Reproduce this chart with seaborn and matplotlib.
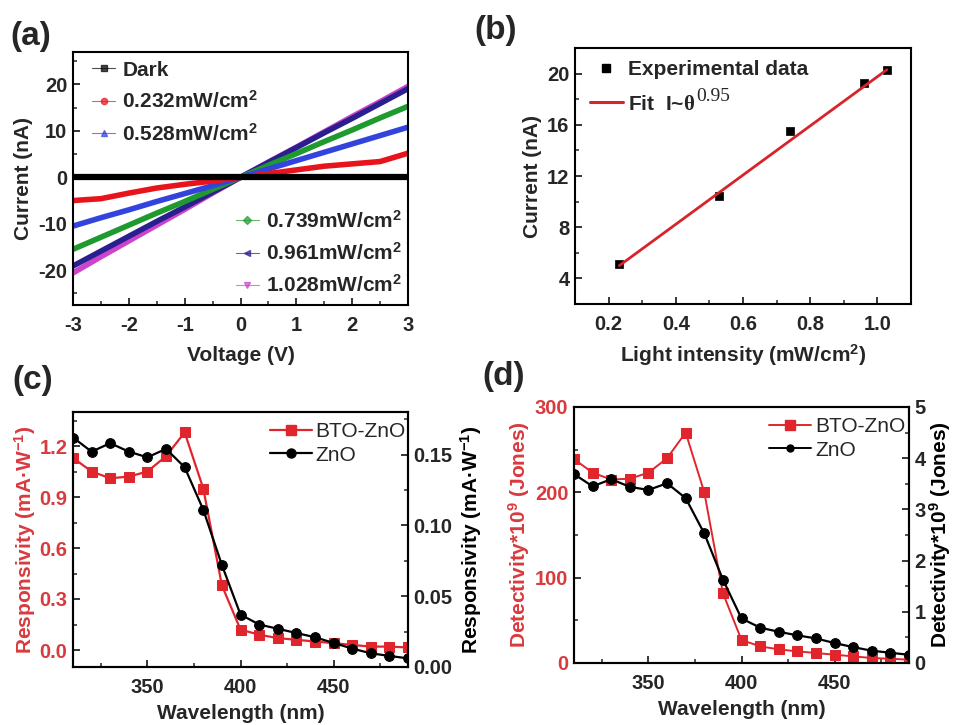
import numpy as np
import pandas as pd
import matplotlib
matplotlib.use("Agg")
import matplotlib.pyplot as plt
import seaborn as sns
from matplotlib.lines import Line2D
from matplotlib.ticker import MultipleLocator, FormatStrFormatter
from matplotlib.transforms import IdentityTransform

sns.set_style("ticks")
plt.rcParams["font.family"] = ["Liberation Sans", "DejaVu Sans"]
plt.rcParams["font.weight"] = "bold"
plt.rcParams["axes.unicode_minus"] = False
plt.rcParams["mathtext.fontset"] = "custom"
plt.rcParams["mathtext.rm"] = "Liberation Serif"
plt.rcParams["mathtext.bf"] = "Liberation Sans:bold"
plt.rcParams["mathtext.it"] = "Liberation Sans:italic"
plt.rcParams["mathtext.sf"] = "Liberation Sans"

# ---------------- data ----------------
# (a) I-V curves
voltage = [-3, -2.5, -2, -1.5, -1, -0.5, 0, 0.5, 1, 1.5, 2, 2.5, 3]
i_dark = [0, 0, 0, 0, 0, 0, 0, 0, 0, 0, 0, 0, 0]
i_0232 = [-5.0, -4.6, -3.4, -2.3, -1.5, -0.8, 0, 0.8, 1.6, 2.4, 2.9, 3.4, 5.2]
i_0528 = [-10.5, -8.7, -7.0, -5.2, -3.5, -1.8, 0, 1.8, 3.6, 5.4, 7.2, 9.0, 10.8]
i_0739 = [-15.5, -12.9, -10.3, -7.7, -5.2, -2.6, 0, 2.6, 5.1, 7.7, 10.2, 12.8, 15.3]
i_0961 = [-19.1, -15.9, -12.7, -9.5, -6.4, -3.2, 0, 3.2, 6.4, 9.6, 12.7, 15.9, 19.1]
i_1028 = [-20.6, -17.1, -13.7, -10.3, -6.9, -3.4, 0, 3.3, 6.5, 9.8, 13.1, 16.3, 19.6]
iv_labels = ["Dark", "0.232mW/cm$^{\\mathbf{2}}$", "0.528mW/cm$^{\\mathbf{2}}$",
             "0.739mW/cm$^{\\mathbf{2}}$", "0.961mW/cm$^{\\mathbf{2}}$",
             "1.028mW/cm$^{\\mathbf{2}}$"]

# (b) current vs light intensity
intensity = [0.232, 0.528, 0.739, 0.961, 1.028]
current = [5.1, 10.4, 15.5, 19.3, 20.3]
fit_x = [0.232, 1.028]
fit_y = [5.0, 20.3]
fit_exponent = "0.95"

# (c),(d) spectra
wavelength = [310, 320, 330, 340, 350, 360, 370, 380, 390, 400,
              410, 420, 430, 440, 450, 460, 470, 480, 490]
resp_bto = [1.13, 1.05, 1.01, 1.02, 1.05, 1.14, 1.28, 0.95, 0.38, 0.12,
            0.09, 0.07, 0.06, 0.05, 0.04, 0.03, 0.02, 0.02, 0.015]
resp_zno = [0.162, 0.152, 0.158, 0.152, 0.148, 0.154, 0.141, 0.111, 0.072, 0.037,
            0.030, 0.027, 0.024, 0.021, 0.017, 0.013, 0.0097, 0.0078, 0.0061]
det_bto = [239, 223, 215, 216, 223, 240, 270, 200, 82, 27,
           19.5, 16, 13.6, 11.7, 9.7, 7.8, 5.8, 5, 3.9]
det_zno = [3.69, 3.45, 3.59, 3.44, 3.38, 3.51, 3.22, 2.53, 1.63, 0.87,
           0.69, 0.61, 0.54, 0.48, 0.39, 0.31, 0.24, 0.20, 0.16]

RED = "#e0262c"
LRED = "#d93a3e"
TICK_FS = 14.5
LAB_FS = 15

fig = plt.figure(figsize=(9.55, 7.25), dpi=100)
W, H = 955, 725


def add_ax(l, t, r, b):
    return fig.add_axes([l / W, 1 - b / H, (r - l) / W, (b - t) / H])


def style(ax):
    for s in ax.spines.values():
        s.set_linewidth(1.5)
        s.set_color("black")
    ax.tick_params(direction="in", which="major", length=5, width=1.3,
                   labelsize=TICK_FS, top=False, right=False)
    ax.tick_params(direction="in", which="minor", length=3, width=1.1,
                   top=False, right=False)
    ax.tick_params(axis="x", which="major", pad=8)
    ax.tick_params(axis="y", which="major", pad=4)
    for t in ax.get_xticklabels() + ax.get_yticklabels():
        t.set_fontweight("bold")


# ---------------- (a) ----------------
axa = add_ax(73, 52, 408, 305)
colors_a = ["black", "#e8141c", "#3344dd", "#1f9a2e", "#2a1f8f", "#cc44cc"]
markers_a = ["s", "o", "^", "D", "<", "v"]
series_a = [i_dark, i_0232, i_0528, i_0739, i_0961, i_1028]
for k in [5, 4, 3, 2, 1, 0]:
    df = pd.DataFrame({"V": voltage, "I": series_a[k]})
    sns.lineplot(data=df, x="V", y="I", ax=axa, color=colors_a[k],
                 lw=4.5 if k == 0 else 4, sort=False, zorder=2 + (k == 0))
axa.set_xlim(-3, 3)
axa.set_ylim(-27.5, 27)
axa.xaxis.set_major_locator(MultipleLocator(1))
axa.xaxis.set_minor_locator(MultipleLocator(0.5))
axa.yaxis.set_major_locator(MultipleLocator(10))
axa.yaxis.set_minor_locator(MultipleLocator(5))
axa.set_xlabel("Voltage (V)", fontsize=LAB_FS, fontweight="bold", labelpad=8)
axa.set_ylabel("Current (nA)", fontsize=LAB_FS, fontweight="bold", labelpad=4)
style(axa)
handles = [Line2D([], [], color=colors_a[k], lw=0.8, alpha=0.7, marker=markers_a[k],
                  markersize=4.5, markerfacecolor=colors_a[k],
                  markeredgecolor=colors_a[k]) for k in range(6)]
leg_kw = dict(frameon=False, prop={"size": 15, "weight": "bold"}, handlelength=1.1,
              handletextpad=0.35, labelspacing=0.5, borderaxespad=0.2)
leg1 = axa.legend(handles[:3], iv_labels[:3], loc="upper left",
                  bbox_to_anchor=(0.02, 1.015), **leg_kw)
axa.add_artist(leg1)
axa.legend(handles[3:], iv_labels[3:], loc="lower right",
           bbox_to_anchor=(1.02, -0.015), **leg_kw)

# ---------------- (b) ----------------
axb = add_ax(575, 48, 911, 304)
dfb = pd.DataFrame({"x": intensity, "y": current})
sns.scatterplot(data=dfb, x="x", y="y", ax=axb, marker="s", s=40, color="black",
                edgecolor="black", zorder=2)
dff = pd.DataFrame({"x": fit_x, "y": fit_y})
sns.lineplot(data=dff, x="x", y="y", ax=axb, color="#d8232a", lw=2.0, zorder=3)
axb.set_xlim(0.1, 1.1)
axb.set_ylim(2, 22)
axb.xaxis.set_major_locator(MultipleLocator(0.2))
axb.xaxis.set_minor_locator(MultipleLocator(0.1))
axb.yaxis.set_major_locator(MultipleLocator(4))
axb.yaxis.set_minor_locator(MultipleLocator(2))
axb.set_xlabel("Light intensity (mW/cm$^{\\mathbf{2}}$)", fontsize=LAB_FS,
               fontweight="bold", labelpad=6)
axb.set_ylabel("Current (nA)", fontsize=LAB_FS, fontweight="bold", labelpad=4)
style(axb)
hb = [Line2D([], [], color="black", lw=0, marker="s", markersize=6),
      Line2D([], [], color="#d8232a", lw=2.2)]
legb = axb.legend(hb, ["Experimental data", "Fit  I~$\\mathrm{\\theta}$"],
                  loc="upper left", frameon=False, prop={"size": 15, "weight": "bold"},
                  handlelength=1.6, handletextpad=0.25, labelspacing=0.75,
                  borderaxespad=0.3, bbox_to_anchor=(0.0, 1.01))

# ---------------- (c) ----------------
axc = add_ax(73, 412, 408, 667)
axc2 = axc.twinx()
dfc = pd.DataFrame({"w": wavelength, "bto": resp_bto, "zno": resp_zno})
sns.lineplot(data=dfc, x="w", y="bto", ax=axc, color=RED, lw=1.6, marker="s",
             markersize=6.5, markeredgecolor=RED, legend=False)
sns.lineplot(data=dfc, x="w", y="zno", ax=axc2, color="black", lw=1.6, marker="o",
             markersize=7, markeredgecolor="black", legend=False)
axc.set_xlim(310, 490)
axc.set_ylim(-0.1, 1.4)
axc2.set_ylim(0, 0.18)
axc.xaxis.set_major_locator(MultipleLocator(50))
axc.xaxis.set_minor_locator(MultipleLocator(25))
axc.yaxis.set_major_locator(MultipleLocator(0.3))
axc.yaxis.set_minor_locator(MultipleLocator(0.15))
axc2.yaxis.set_major_locator(MultipleLocator(0.05))
axc2.yaxis.set_minor_locator(MultipleLocator(0.025))
axc.yaxis.set_major_formatter(FormatStrFormatter("%.1f"))
axc2.yaxis.set_major_formatter(FormatStrFormatter("%.2f"))
axc.set_xlabel("Wavelength (nm)", fontsize=LAB_FS, fontweight="bold", labelpad=5)
axc.set_ylabel("Responsivity (mA·W$^{\\mathbf{-1}}$)", fontsize=LAB_FS,
               fontweight="bold", color=LRED, labelpad=1)
axc2.set_ylabel("Responsivity (mA·W$^{\\mathbf{-1}}$)", fontsize=LAB_FS,
                fontweight="bold", color="black", labelpad=4)
style(axc)
style(axc2)
axc2.tick_params(which="both", right=True, left=False, labelright=True,
                 labelleft=False)
for t in axc.get_yticklabels():
    t.set_color(LRED)
hc = [Line2D([], [], color=RED, lw=1.6, marker="s", markersize=6.5),
      Line2D([], [], color="black", lw=1.6, marker="o", markersize=6.5)]
axc2.legend(hc, ["BTO-ZnO", "ZnO"], loc="upper right", frameon=False,
            prop={"size": 15, "weight": "normal"}, handlelength=2.0,
            handletextpad=0.2, labelspacing=0.2, borderaxespad=0.1,
            bbox_to_anchor=(1.025, 1.0))

# ---------------- (d) ----------------
axd = add_ax(574, 407, 909, 663)
axd2 = axd.twinx()
dfd = pd.DataFrame({"w": wavelength, "bto": det_bto, "zno": det_zno})
sns.lineplot(data=dfd, x="w", y="bto", ax=axd, color=RED, lw=1.4, marker="s",
             markersize=6.5, markeredgecolor=RED, legend=False)
sns.lineplot(data=dfd, x="w", y="zno", ax=axd2, color="black", lw=1.6, marker="o",
             markersize=7, markeredgecolor="black", legend=False)
axd.set_xlim(310, 490)
axd.set_ylim(0, 300)
axd2.set_ylim(0, 5)
axd.xaxis.set_major_locator(MultipleLocator(50))
axd.xaxis.set_minor_locator(MultipleLocator(25))
axd.yaxis.set_major_locator(MultipleLocator(100))
axd.yaxis.set_minor_locator(MultipleLocator(50))
axd2.yaxis.set_major_locator(MultipleLocator(1))
axd2.yaxis.set_minor_locator(MultipleLocator(0.5))
axd.set_xlabel("Wavelength (nm)", fontsize=LAB_FS, fontweight="bold", labelpad=5)
axd.set_ylabel("Detectivity*10$^{\\mathbf{9}}$ (Jones)", fontsize=LAB_FS,
               fontweight="bold", color=LRED, labelpad=2)
axd2.set_ylabel("Detectivity*10$^{\\mathbf{9}}$ (Jones)", fontsize=LAB_FS,
                fontweight="bold", color="black", labelpad=1)
style(axd)
style(axd2)
axd2.tick_params(which="both", right=True, left=False, labelright=True,
                 labelleft=False)
for t in axd.get_yticklabels():
    t.set_color(LRED)
hd = [Line2D([], [], color=RED, lw=1.4, marker="s", markersize=6.5),
      Line2D([], [], color="black", lw=1.4, marker="o", markersize=5)]
axd2.legend(hd, ["BTO-ZnO", "ZnO"], loc="upper right", frameon=False,
            prop={"size": 15, "weight": "normal"}, handlelength=2.0,
            handletextpad=0.2, labelspacing=0.2, borderaxespad=0.1,
            bbox_to_anchor=(1.02, 1.0))

# panel labels
for lab, x, y in [("(a)", 10, 37), ("(b)", 474, 31), ("(c)", 12, 381), ("(d)", 482, 377)]:
    fig.text(x / W, 1 - y / H, lab, fontsize=24, fontweight="bold",
             va="center", ha="left")

# exponent of the fit label (serif, nearly full size, raised)
fig.canvas.draw()
renderer = fig.canvas.get_renderer()
fit_txt = legb.get_texts()[1]
bb = fit_txt.get_window_extent(renderer)
fig.text(bb.x1 + 1, bb.y0 + 9, fit_exponent, transform=IdentityTransform(),
         fontsize=14, fontweight="normal", family="Liberation Serif",
         va="bottom", ha="left")

fig.savefig("out.png", dpi=100)
